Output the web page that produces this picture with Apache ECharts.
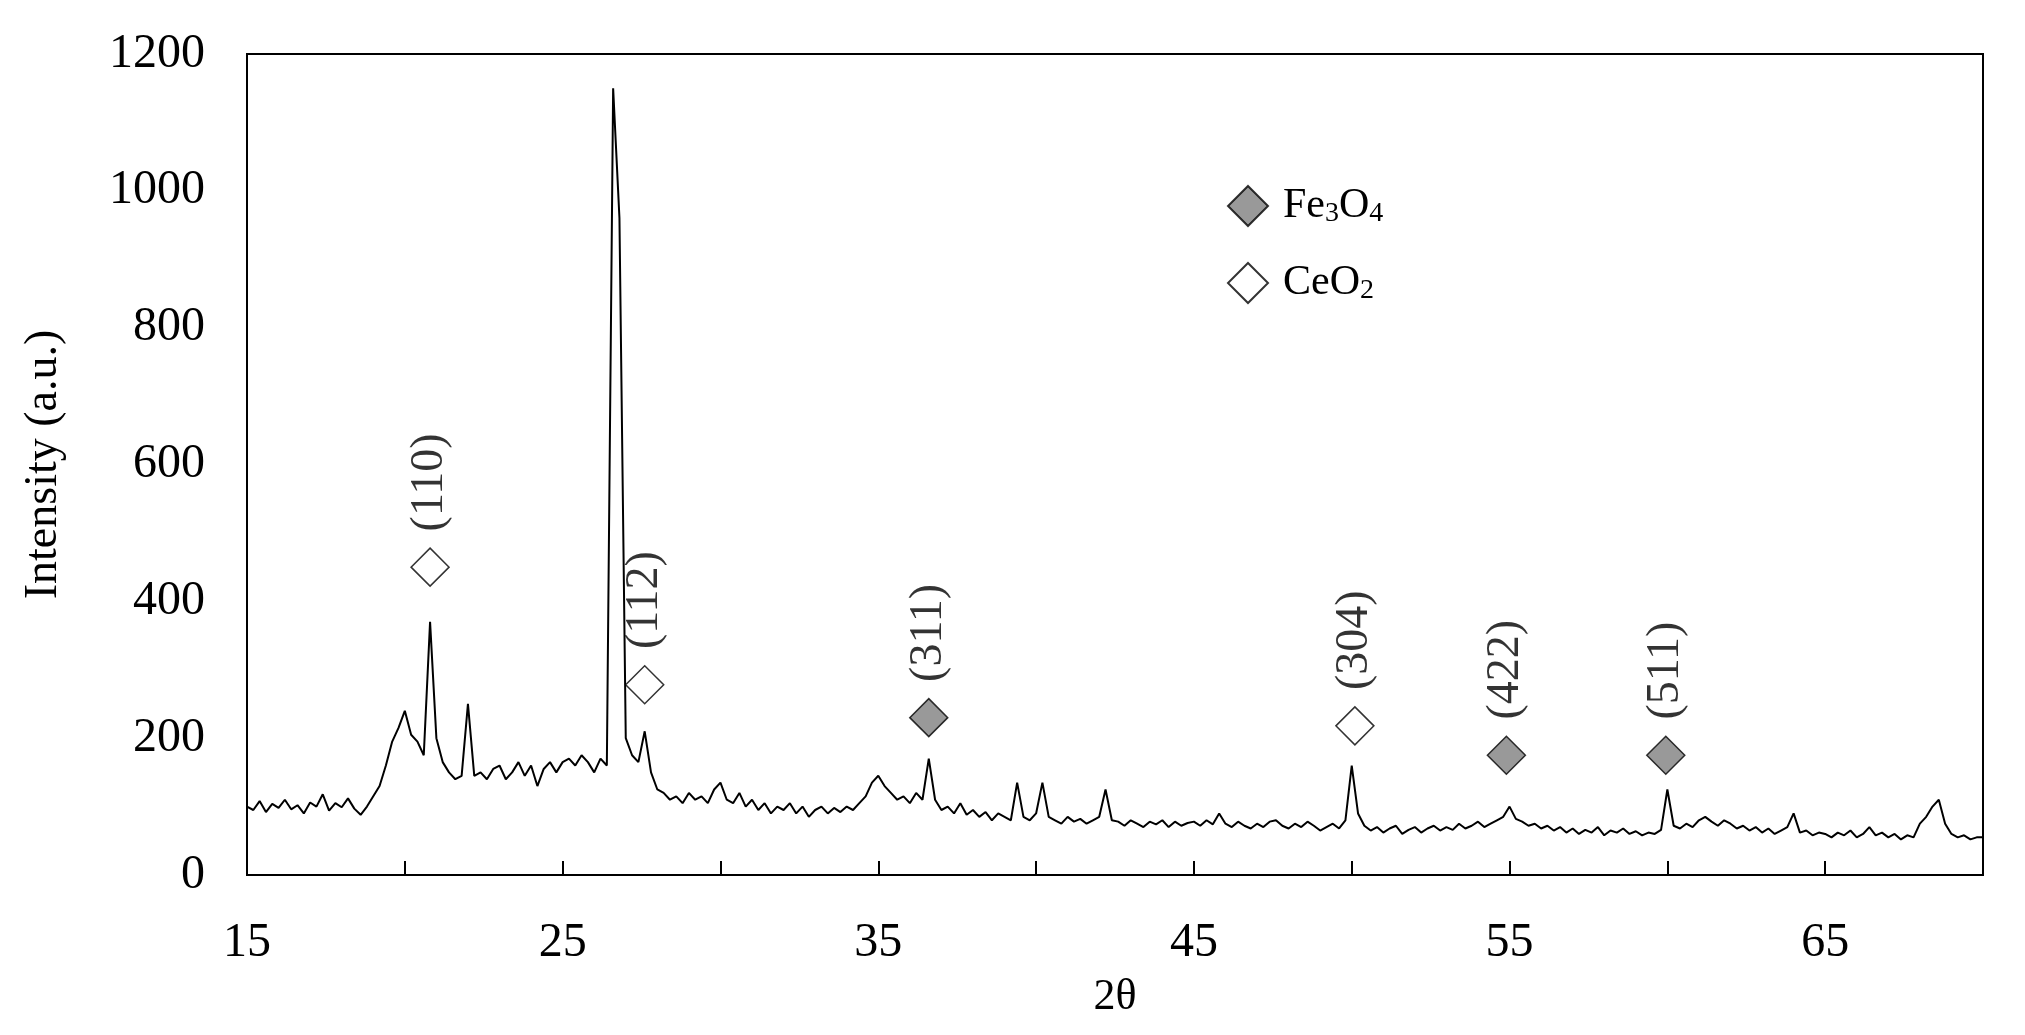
<!DOCTYPE html>
<html><head><meta charset="utf-8">
<script src="https://cdn.jsdelivr.net/npm/echarts@6/dist/echarts.min.js"></script>
<style>html,body{margin:0;background:#fff}#c{width:2025px;height:1035px}</style>
</head><body><div id="c"></div>
<script>
const startAngle = 15, stepAngle = 0.2;
const intensity = [
100,95,108,92,104,98,110,96,102,90,106,100,118,94,105,99,112,97,88,100,115,130,160,195,215,
240,205,195,175,370,200,165,150,140,145,250,145,150,140,155,160,140,150,165,145,160,130,155,165,150,
165,170,160,175,165,150,170,160,1150,960,200,175,165,210,150,125,120,110,115,105,120,110,115,105,125,
135,110,105,120,100,110,95,105,90,100,95,105,90,100,85,95,100,90,98,92,100,95,105,115,135,
145,130,120,110,115,105,120,110,170,110,95,100,90,105,88,95,85,92,80,90,85,80,135,85,80,
90,135,85,80,75,85,78,82,75,80,85,125,80,78,72,80,75,70,78,74,80,70,78,72,76,
78,72,80,74,90,75,70,78,72,68,75,70,78,80,72,68,75,70,78,72,65,70,75,68,80,
160,90,72,65,70,62,68,72,60,66,70,62,68,72,65,70,66,75,68,72,78,70,75,80,85,
100,82,78,72,75,68,72,65,70,62,68,60,66,62,70,58,65,62,68,60,64,58,62,60,66,
125,72,68,75,70,80,85,78,72,80,75,68,72,65,70,62,68,60,65,70,90,62,65,58,62,
60,55,62,58,65,55,60,70,58,62,55,60,52,58,55,75,85,100,110,75,60,55,58,52,55,
55];
const fe3o4Peaks = [[36.6,230,'(311)'],[54.9,175,'(422)'],[59.95,175,'(511)']];
const ceo2Peaks = [[20.8,450,'(110)'],[27.6,278,'(112)'],[50.1,218,'(304)']];
const xTicks = [15,25,35,45,55,65];

const font = 'Liberation Serif';
const pattern = intensity.map((v,i)=>[+(startAngle+i*stepAngle).toFixed(2), v]);
const peakLabel = {show:true, position:'top', rotate:90, align:'left', verticalAlign:'middle', distance:16,
  formatter:p=>p.data[2], fontFamily:font, fontSize:46, color:'#000'};
const chart = echarts.init(document.getElementById('c'));
chart.setOption({
  animation:false,
  grid:{left:247,right:42,top:54,bottom:160,show:true,borderColor:'#000',borderWidth:2},
  legend:{orient:'vertical',left:1222,top:180,itemGap:34,itemWidth:40,itemHeight:40,
    data:['Fe3O4','CeO2'],
    textStyle:{fontFamily:font,fontSize:42,color:'#000',padding:[0,0,0,10],rich:{s:{fontFamily:font,fontSize:28,verticalAlign:'bottom',padding:[16,0,0,0]}}},
    formatter:n=>n==='Fe3O4'?'Fe{s|3}O{s|4}':'CeO{s|2}'},
  xAxis:{type:'value',min:15,max:70,interval:5,name:'2θ',nameLocation:'middle',nameGap:100,
    nameTextStyle:{fontFamily:font,fontSize:44,color:'#000'},
    axisLine:{lineStyle:{color:'#000',width:2}},
    axisTick:{inside:true,length:14,lineStyle:{color:'#000',width:2}},
    axisLabel:{margin:44,fontFamily:font,fontSize:48,color:'#000',formatter:v=>xTicks.includes(v)?String(v):''},
    splitLine:{show:false}},
  yAxis:{type:'value',min:0,max:1200,interval:200,name:'Intensity (a.u.)',nameLocation:'middle',nameGap:180,
    nameTextStyle:{fontFamily:font,fontSize:46,color:'#000'},
    axisLine:{lineStyle:{color:'#000',width:2}},axisTick:{show:false},
    axisLabel:{margin:42,fontFamily:font,fontSize:48,color:'#000',formatter:v=>String(v)},splitLine:{show:false}},
  series:[
    {type:'line',data:pattern,symbol:'none',lineStyle:{color:'#000',width:2},z:2},
    {name:'Fe3O4',type:'scatter',data:fe3o4Peaks,symbol:'diamond',symbolSize:38,
      itemStyle:{color:'#7f7f7f',borderColor:'#000',borderWidth:1.5},label:peakLabel,z:5},
    {name:'CeO2',type:'scatter',data:ceo2Peaks,symbol:'diamond',symbolSize:38,
      itemStyle:{color:'#fff',borderColor:'#000',borderWidth:1.5},label:peakLabel,z:5}
  ]
});
</script></body></html>
